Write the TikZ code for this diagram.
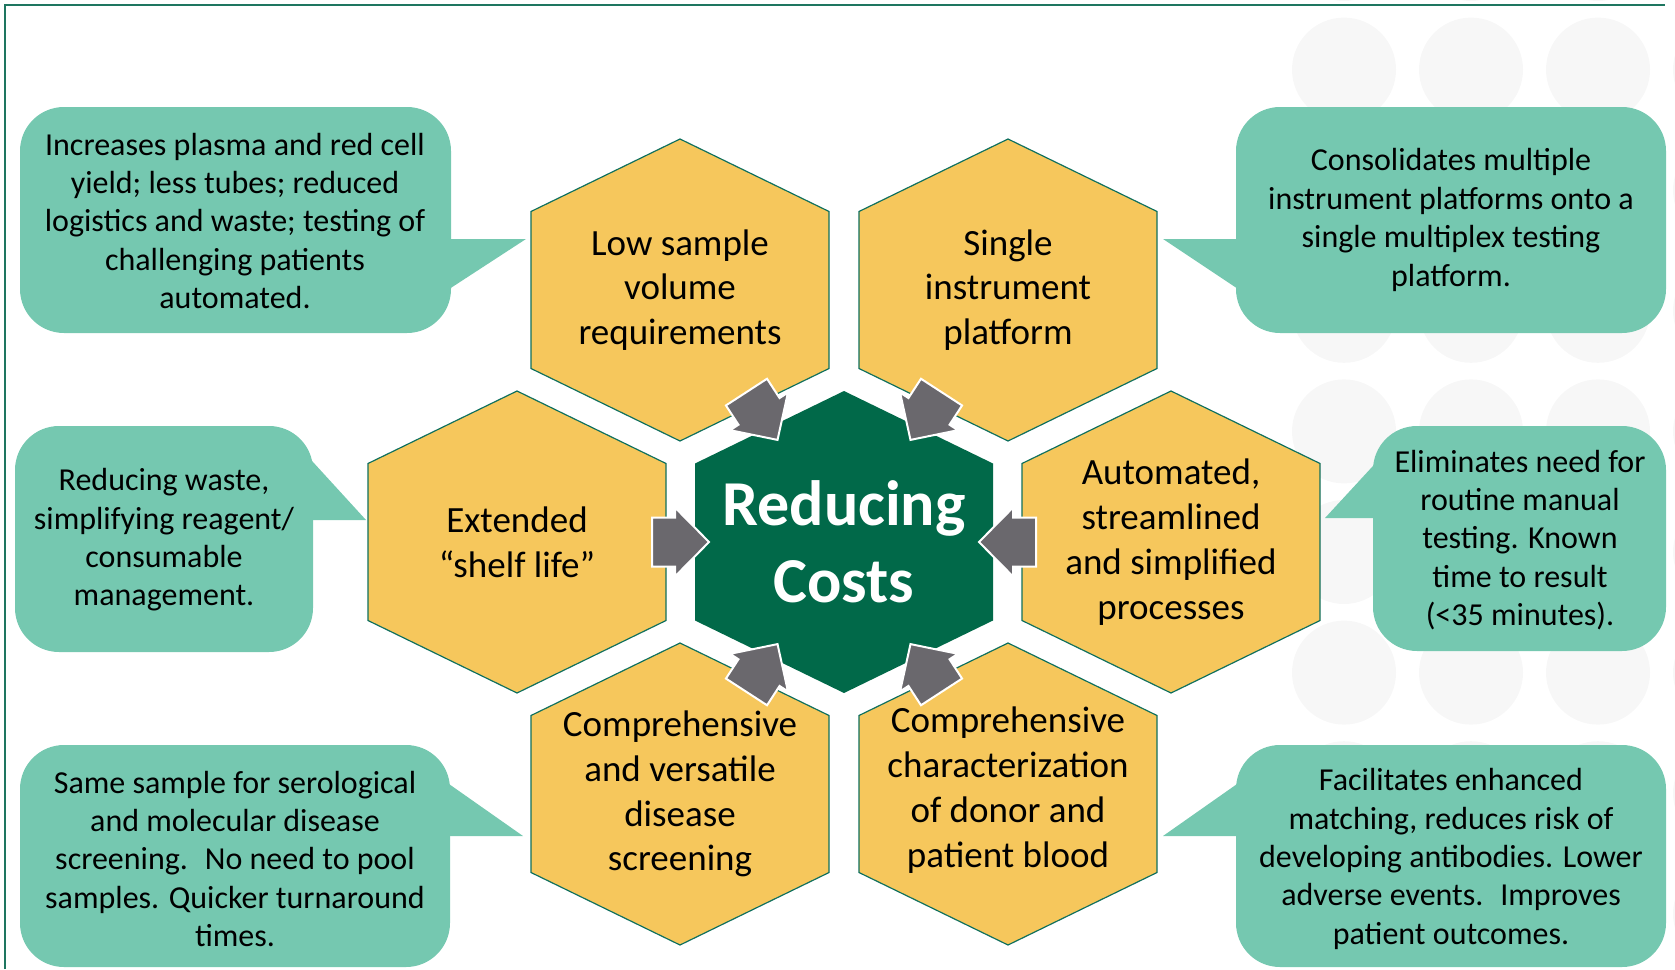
\documentclass[tikz,border=0pt]{standalone}
\usepackage{fontspec}
\setmainfont{Carlito}
\usetikzlibrary{calc}

\definecolor{hexyellow}{RGB}{246,199,92}
\definecolor{hexline}{RGB}{16,112,94}
\definecolor{coregreen}{RGB}{1,105,73}
\definecolor{bubblegreen}{RGB}{117,200,176}
\definecolor{arrowgray}{RGB}{106,104,109}
\definecolor{dotgray}{RGB}{247,247,247}
\definecolor{framegreen}{RGB}{30,118,96}

% contorno di un esagono (punta in alto) attorno a un centro
\newcommand{\hexpath}[1]{(#1) ++(0,-151) -- ++(149,72.5) -- ++(0,157) -- ++(-149,72.5) -- ++(-149,-72.5) -- ++(0,-157) -- cycle}
% freccia a blocco tra un esagono esterno e quello centrale
\newcommand{\pusharrow}[2]{%
  \draw[pushar, shift={($(#1)!0.5!(core)$)}, rotate=#2]
    (-28.5,-24.5) -- (-5.5,-24.5) -- (-5.5,-34.5) -- (28.5,0) -- (-5.5,34.5) -- (-5.5,24.5) -- (-28.5,24.5) -- cycle;}

\begin{document}
\begin{tikzpicture}[
    % un'unita' = un pixel, asse y verso il basso
    x=0.5pt, y=-0.5pt,
    % Stili degli esagoni, dei fumetti e delle frecce
    hexcell/.style={fill=hexyellow, draw=hexline, line width=0.6pt},
    hexcore/.style={fill=coregreen},
    hexlabel/.style={align=center, font=\fontsize{18.5}{22.4}\selectfont},
    corelabel/.style={align=center, text=white, font=\fontsize{32}{38.4}\selectfont\bfseries},
    bubble/.style={fill=bubblegreen},
    bubblelabel/.style={align=center, font=\fontsize{16}{19.2}\selectfont},
    pushar/.style={fill=arrowgray, draw=white, line width=1pt},
    bgdot/.style={fill=dotgray},
    frame/.style={draw=framegreen, line width=0.8pt}
]
\useasboundingbox (0,0) rectangle (1675,969);

% ==============================
% Sfondo: cerchi grigi e cornice
% ==============================
\begin{scope}
    \clip (0,0) rectangle (1675,969);
    \foreach \cx in {1344,1471,1598,1725}
        \foreach \r in {0,...,8}
            \fill[bgdot] (\cx,{-51+120.6*\r}) circle[radius=52];
\end{scope}
\draw[frame] (5,969) -- (5,5) -- (1665,5);

% ==============================
% Centri degli esagoni
% ==============================
\coordinate (core)   at (844,542);
\coordinate (low)    at (680,290);
\coordinate (single) at (1008,290);
\coordinate (shelf)  at (517,542);
\coordinate (auto)   at (1171,542);
\coordinate (compv)  at (680,794);
\coordinate (compc)  at (1008,794);

% Esagoni
\foreach \h in {low,single,shelf,auto,compv,compc}
    \path[hexcell] \hexpath{\h};
\path[hexcore] \hexpath{core};

% Testi degli esagoni
\node[hexlabel] (lowtxt)    at (low)    {Low sample\\volume\\requirements};
\node[hexlabel] (singletxt) at (single) {Single\\instrument\\platform};
\node[hexlabel] (shelftxt)  at (shelf)  {Extended\\“shelf life”};
\node[hexlabel] (autotxt)   at (auto)   {Automated,\\streamlined\\and simplified\\processes};
\node[hexlabel] (compvtxt)  at (compv)  {Comprehensive\\and versatile\\disease\\screening};
\node[hexlabel] (compctxt)  at ($(compc)+(0,-4)$) {Comprehensive\\characterization\\of donor and\\patient blood};
\node[corelabel] (coretxt)  at (core)   {Reducing\\Costs};

% Frecce verso il centro
\pusharrow{low}{-57}
\pusharrow{single}{-123}
\pusharrow{shelf}{0}
\pusharrow{auto}{180}
\pusharrow{compv}{57}
\pusharrow{compc}{123}

% ==============================
% Fumetti
% ==============================
% in alto a sinistra
\fill[bubble, rounded corners=22pt] (20,107) rectangle (451,333);
\fill[bubble] (440,239) -- (526,239) -- (440,295) -- cycle;
\node[bubblelabel] (lownote) at (235,221)
    {Increases plasma and red cell\\yield; less tubes; reduced\\logistics and waste; testing of\\challenging patients\\automated.};

% in alto a destra
\fill[bubble, rounded corners=22pt] (1236,107) rectangle (1666,333);
\fill[bubble] (1247,239) -- (1163,239) -- (1247,295) -- cycle;
\node[bubblelabel] (singlenote) at (1451,220)
    {Consolidates multiple\\instrument platforms onto a\\single multiplex testing\\platform.};

% al centro a sinistra
\fill[bubble, rounded corners=22pt] (15,426) rectangle (313,652);
\fill[bubble] (302,450) -- (366,520) -- (302,520) -- cycle;
\node[bubblelabel] (shelfnote) at (164,540)
    {Reducing waste,\\simplifying reagent/\\consumable\\management.};

% al centro a destra
\fill[bubble, rounded corners=22pt] (1373,426) rectangle (1666,651);
\fill[bubble] (1384,454) -- (1325,518) -- (1384,518) -- cycle;
\node[bubblelabel] (autonote) at (1520,540)
    {Eliminates need for\\routine manual\\testing. Known\\time to result\\(<35 minutes).};

% in basso a sinistra
\fill[bubble, rounded corners=22pt] (20,745) rectangle (450,967);
\fill[bubble] (439,777) -- (523,836) -- (439,836) -- cycle;
\node[bubblelabel] (compvnote) at (235,859)
    {Same sample for serological\\and molecular disease\\screening.~ No need to pool\\samples. Quicker turnaround\\times.};

% in basso a destra
\fill[bubble, rounded corners=22pt] (1236,745) rectangle (1666,967);
\fill[bubble] (1247,777) -- (1163,836) -- (1247,836) -- cycle;
\node[bubblelabel] (compcnote) at (1451,859)
    {Facilitates enhanced\\matching, reduces risk of\\developing antibodies. Lower\\adverse events.~ Improves\\patient outcomes.};

\end{tikzpicture}
\end{document}
